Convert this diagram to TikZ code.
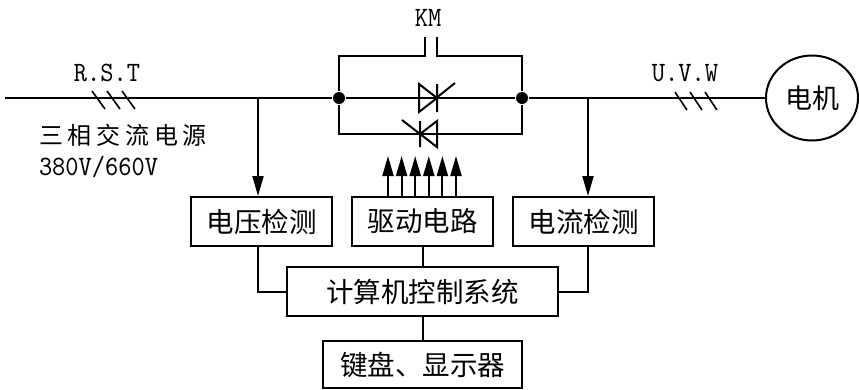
\documentclass[tikz,border=0pt]{standalone}
\usepackage{fontspec}
\newfontfamily\cjk{Noto Sans CJK SC}
\newfontfamily\latn{lmmono10-regular}[Extension=.otf,FakeStretch=0.9]
\usetikzlibrary{arrows.meta}
\usetikzlibrary{shapes.geometric}

\begin{document}
\begin{tikzpicture}[x=1pt,y=-1pt,line width=2pt,
                box/.style={draw,minimum height=49pt,inner sep=0pt,font=\cjk\fontsize{27.5}{30}\selectfont},
                lbl/.style={inner sep=0pt,font=\latn\fontsize{28}{30}\selectfont},
                sig/.style={-{Triangle[length=20pt,width=11pt]}},
                dot/.style={circle,fill,inner sep=0pt,minimum size=12pt}
                ]
            \useasboundingbox (0,0) rectangle (859,389);

            \node[box,minimum width=141pt] (volt) at (261.5,221.5) {电压检测};
            \node[box,minimum width=141pt] (drive) at (422.5,221.5) {驱动电路};
            \node[box,minimum width=141pt] (curr) at (583.5,221.5) {电流检测};
            \node[box,minimum width=271pt] (comp) at (422.5,291.5) {计算机控制系统};
            \node[box,minimum width=199pt,minimum height=47pt] (keys) at (422.5,364.5) {键盘、显示器};

            \node[draw,ellipse,minimum width=92pt,minimum height=85pt,inner sep=0pt,font=\cjk\fontsize{27}{29}\selectfont] (motor) at (812,98) {电机};
            \node[dot] (jL) at (339,98) {};
            \node[dot] (jR) at (522,98) {};

            \coordinate (src) at (5,98);
            \coordinate (tapL) at (258,98);
            \coordinate (tapR) at (588,98);
            \coordinate (kmL) at (425,37);
            \coordinate (kmR) at (437,37);
            \coordinate (th2) at (428,134);

            \node[lbl] (rst) at (107,73) {R.S.T};
            \node[lbl] (uvw) at (685,73) {U.V.W};
            \node[lbl] (km) at (428,18) {KM};
            \node[inner sep=0pt,anchor=west,font=\cjk\fontsize{24}{26}\selectfont\addfontfeature{LetterSpace=20.0}] (mains) at (38,135) {三相交流电源};
            \node[lbl,anchor=west] (volts) at (38,167) {380V/660V};

            % main line
            \draw (src) -- (jL) -- (jR) -- (motor);
            \foreach \x in {92,107,122} \draw[line width=1.6pt] (\x,91) -- ++(13,18);
            \foreach \x in {675,690,705} \draw[line width=1.6pt] (\x,92) -- ++(12,18);

            % bypass contact and thyristors
            \draw (jL) -- ++(0,-42) -| (kmL);
            \draw (jR) -- ++(0,-42) -| (kmR);
            \draw (jL) |- (th2) -| (jR);
            \draw (419,84) -- (419,112) -- (437,98) -- cycle;
            \draw (437,84) -- (437,112) (435,99) -- (455,83);
            \draw (437,121) -- (437,147) -- (420,134) -- cycle;
            \draw (420,121) -- (420,147) (402,120) -- (420,134);

            \draw[sig] (tapL) -- (tapL |- volt.north);
            \draw[sig] (tapR) -- (tapR |- curr.north);
            \foreach \i [evaluate=\i as \x using 388+13.6*\i] in {0,...,5}
                \draw[sig] (\x,0 |- drive.north) -- (\x,156);

            \draw (tapL |- volt.south) |- (comp.west);
            \draw (tapR |- curr.south) |- (comp.east);
            \draw (drive) -- (comp);
            \draw (comp) -- (keys);

            \end{tikzpicture}
\end{document}
